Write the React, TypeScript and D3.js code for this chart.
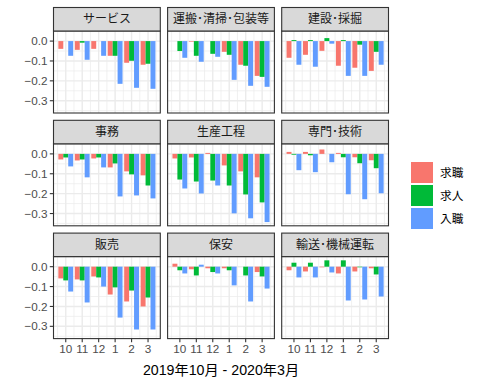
import * as d3 from "d3";

// occupation facets, in facet_wrap order
const occupations = [
  "サービス", "運搬･清掃･包装等", "建設･採掘",
  "事務", "生産工程", "専門･技術",
  "販売", "保安", "輸送･機械運転",
];
const months = ["10", "11", "12", "1", "2", "3"];
const seriesNames = ["求職", "求人", "入職"];
const seriesColors = ["#F8766D", "#00BA38", "#619CFF"];

// 求職 (job seekers), one row per occupation
const seekers = [
  [-0.039, -0.044, -0.039, -0.074, -0.109, -0.119],
  [0, -0.003, 0, -0.054, -0.119, -0.175],
  [-0.084, -0.069, -0.049, -0.124, -0.134, -0.15],
  [-0.028, -0.033, -0.023, -0.068, -0.088, -0.108],
  [-0.023, -0.018, 0.005, -0.058, -0.088, -0.118],
  [0.01, 0.01, 0.022, 0.005, -0.017, -0.032],
  [-0.059, -0.064, -0.049, -0.14, -0.175, -0.2],
  [0.015, -0.013, -0.008, -0.008, 0, -0.027],
  [-0.018, -0.024, -0.003, -0.034, -0.024, -0.008],
];
// 求人 (openings)
const openings = [
  [0, -0.008, 0, -0.074, -0.099, -0.114],
  [-0.05, -0.074, -0.064, -0.069, -0.124, -0.18],
  [0.005, 0.005, 0.015, 0.005, -0.018, -0.054],
  [-0.018, -0.028, -0.018, -0.048, -0.103, -0.159],
  [-0.129, -0.139, -0.134, -0.159, -0.204, -0.244],
  [-0.004, -0.007, 0, -0.017, -0.047, -0.072],
  [-0.069, -0.069, -0.054, -0.104, -0.12, -0.155],
  [-0.018, -0.044, -0.027, -0.018, -0.044, -0.049],
  [0.02, 0.02, 0.032, 0.032, -0.003, -0.039],
];
// 入職 (hires)
const hires = [
  [-0.074, -0.094, -0.074, -0.215, -0.235, -0.24],
  [-0.084, -0.104, -0.079, -0.195, -0.225, -0.23],
  [-0.119, -0.129, -0.013, -0.175, -0.175, -0.119],
  [-0.063, -0.118, -0.068, -0.214, -0.209, -0.224],
  [-0.174, -0.199, -0.159, -0.299, -0.324, -0.343],
  [-0.082, -0.092, -0.042, -0.203, -0.228, -0.198],
  [-0.125, -0.18, -0.1, -0.256, -0.316, -0.316],
  [-0.034, 0.01, -0.034, -0.094, -0.175, -0.11],
  [-0.054, -0.054, -0.029, -0.17, -0.165, -0.15],
];
const yBreaks = [0, -0.1, -0.2, -0.3];
const xTitle = "2019年10月 - 2020年3月";

const W = 480;
const H = 384;
const left = 53.5;
const top = 7.5;
const panelW = 106.8;
const panelH = 82;
const stripH = 23.5;
const gap = 7.3;
const font = "'Liberation Sans', Arial, 'Noto Sans CJK JP', sans-serif";

export default function App() {
  const series = [seekers, openings, hires];
  const all = series.flat(2);
  const lo = d3.min(all) as number;
  const hi = d3.max(all) as number;
  const pad = (hi - lo) * 0.05;

  const x = d3.scaleLinear().domain([0.55 - 0.295, 6.45 + 0.295]).range([0, panelW]);
  const y = d3.scaleLinear().domain([lo - pad, hi + pad]).range([panelH, 0]);
  const xMinor = d3.range(0.5, 7, 1);
  const yMinor = [0.05, -0.05, -0.15, -0.25, -0.35].filter(
    (v) => v >= y.domain()[0] && v <= y.domain()[1]
  );
  const barW = x(1.3) - x(1);

  return (
    <svg
      width={W}
      height={H}
      style={{ position: "absolute", left: 0, top: 0, background: "#fff" }}
      fontFamily={font}
    >
      {occupations.map((name, i) => {
        const col = i % 3;
        const row = Math.floor(i / 3);
        const px = left + col * (panelW + gap);
        const sy = top + row * (stripH + panelH + gap);
        const py = sy + stripH;
        return (
          <g key={name}>
            <g transform={`translate(${px},${py})`}>
              <rect width={panelW} height={panelH} fill="#fff" />
              {xMinor.map((v) => (
                <line key={"xm" + v} x1={x(v)} x2={x(v)} y1={0} y2={panelH} stroke="#EBEBEB" strokeWidth={0.7} />
              ))}
              {yMinor.map((v) => (
                <line key={"ym" + v} x1={0} x2={panelW} y1={y(v)} y2={y(v)} stroke="#EBEBEB" strokeWidth={0.7} />
              ))}
              {months.map((m, j) => (
                <line key={"xg" + m} x1={x(j + 1)} x2={x(j + 1)} y1={0} y2={panelH} stroke="#EBEBEB" strokeWidth={1.4} />
              ))}
              {yBreaks.map((v) => (
                <line key={"yg" + v} x1={0} x2={panelW} y1={y(v)} y2={y(v)} stroke="#EBEBEB" strokeWidth={1.4} />
              ))}
              {series.map((s, k) =>
                s[i].map((v, j) => {
                  const cx = j + 1 + (k - 1) * 0.3;
                  return (
                    <rect
                      key={k + "-" + j}
                      x={x(cx - 0.15)}
                      width={barW}
                      y={Math.min(y(v), y(0))}
                      height={Math.abs(y(v) - y(0))}
                      fill={seriesColors[k]}
                    />
                  );
                })
              )}
              <rect width={panelW} height={panelH} fill="none" stroke="#333333" strokeWidth={1.1} />
              {col === 0 &&
                yBreaks.map((v) => (
                  <g key={"yt" + v} transform={`translate(0,${y(v)})`}>
                    <line x1={-3.7} x2={0} stroke="#333333" strokeWidth={1.1} />
                    <text x={-6} dy="0.35em" textAnchor="end" fontSize={11.7} fill="#4D4D4D">
                      {d3.format(".1f")(v)}
                    </text>
                  </g>
                ))}
              {row === 2 &&
                months.map((m, j) => (
                  <g key={"xt" + m} transform={`translate(${x(j + 1)},${panelH})`}>
                    <line y1={0} y2={3.7} stroke="#333333" strokeWidth={1.1} />
                    <text y={14.5} textAnchor="middle" fontSize={11.7} fill="#4D4D4D">
                      {m}
                    </text>
                  </g>
                ))}
            </g>
            <g transform={`translate(${px},${sy})`}>
              <rect width={panelW} height={stripH} fill="#D9D9D9" stroke="#333333" strokeWidth={1.1} />
              <text
                x={panelW / 2}
                y={stripH / 2}
                dy="0.35em"
                textAnchor="middle"
                fontSize={12}
                fill="#1A1A1A"
              >
                {name}
              </text>
            </g>
          </g>
        );
      })}
      <text
        x={left + (3 * panelW + 2 * gap) / 2}
        y={375}
        textAnchor="middle"
        fontSize={14.2}
        fill="#000"
      >
        {xTitle}
      </text>
      <g transform="translate(411,162)">
        {seriesNames.map((n, k) => (
          <g key={n} transform={`translate(0,${k * 23})`}>
            <rect width={22} height={21} fill={seriesColors[k]} />
            <text x={29} y={10.5} dy="0.35em" fontSize={11.7} fill="#000">
              {n}
            </text>
          </g>
        ))}
      </g>
    </svg>
  );
}
